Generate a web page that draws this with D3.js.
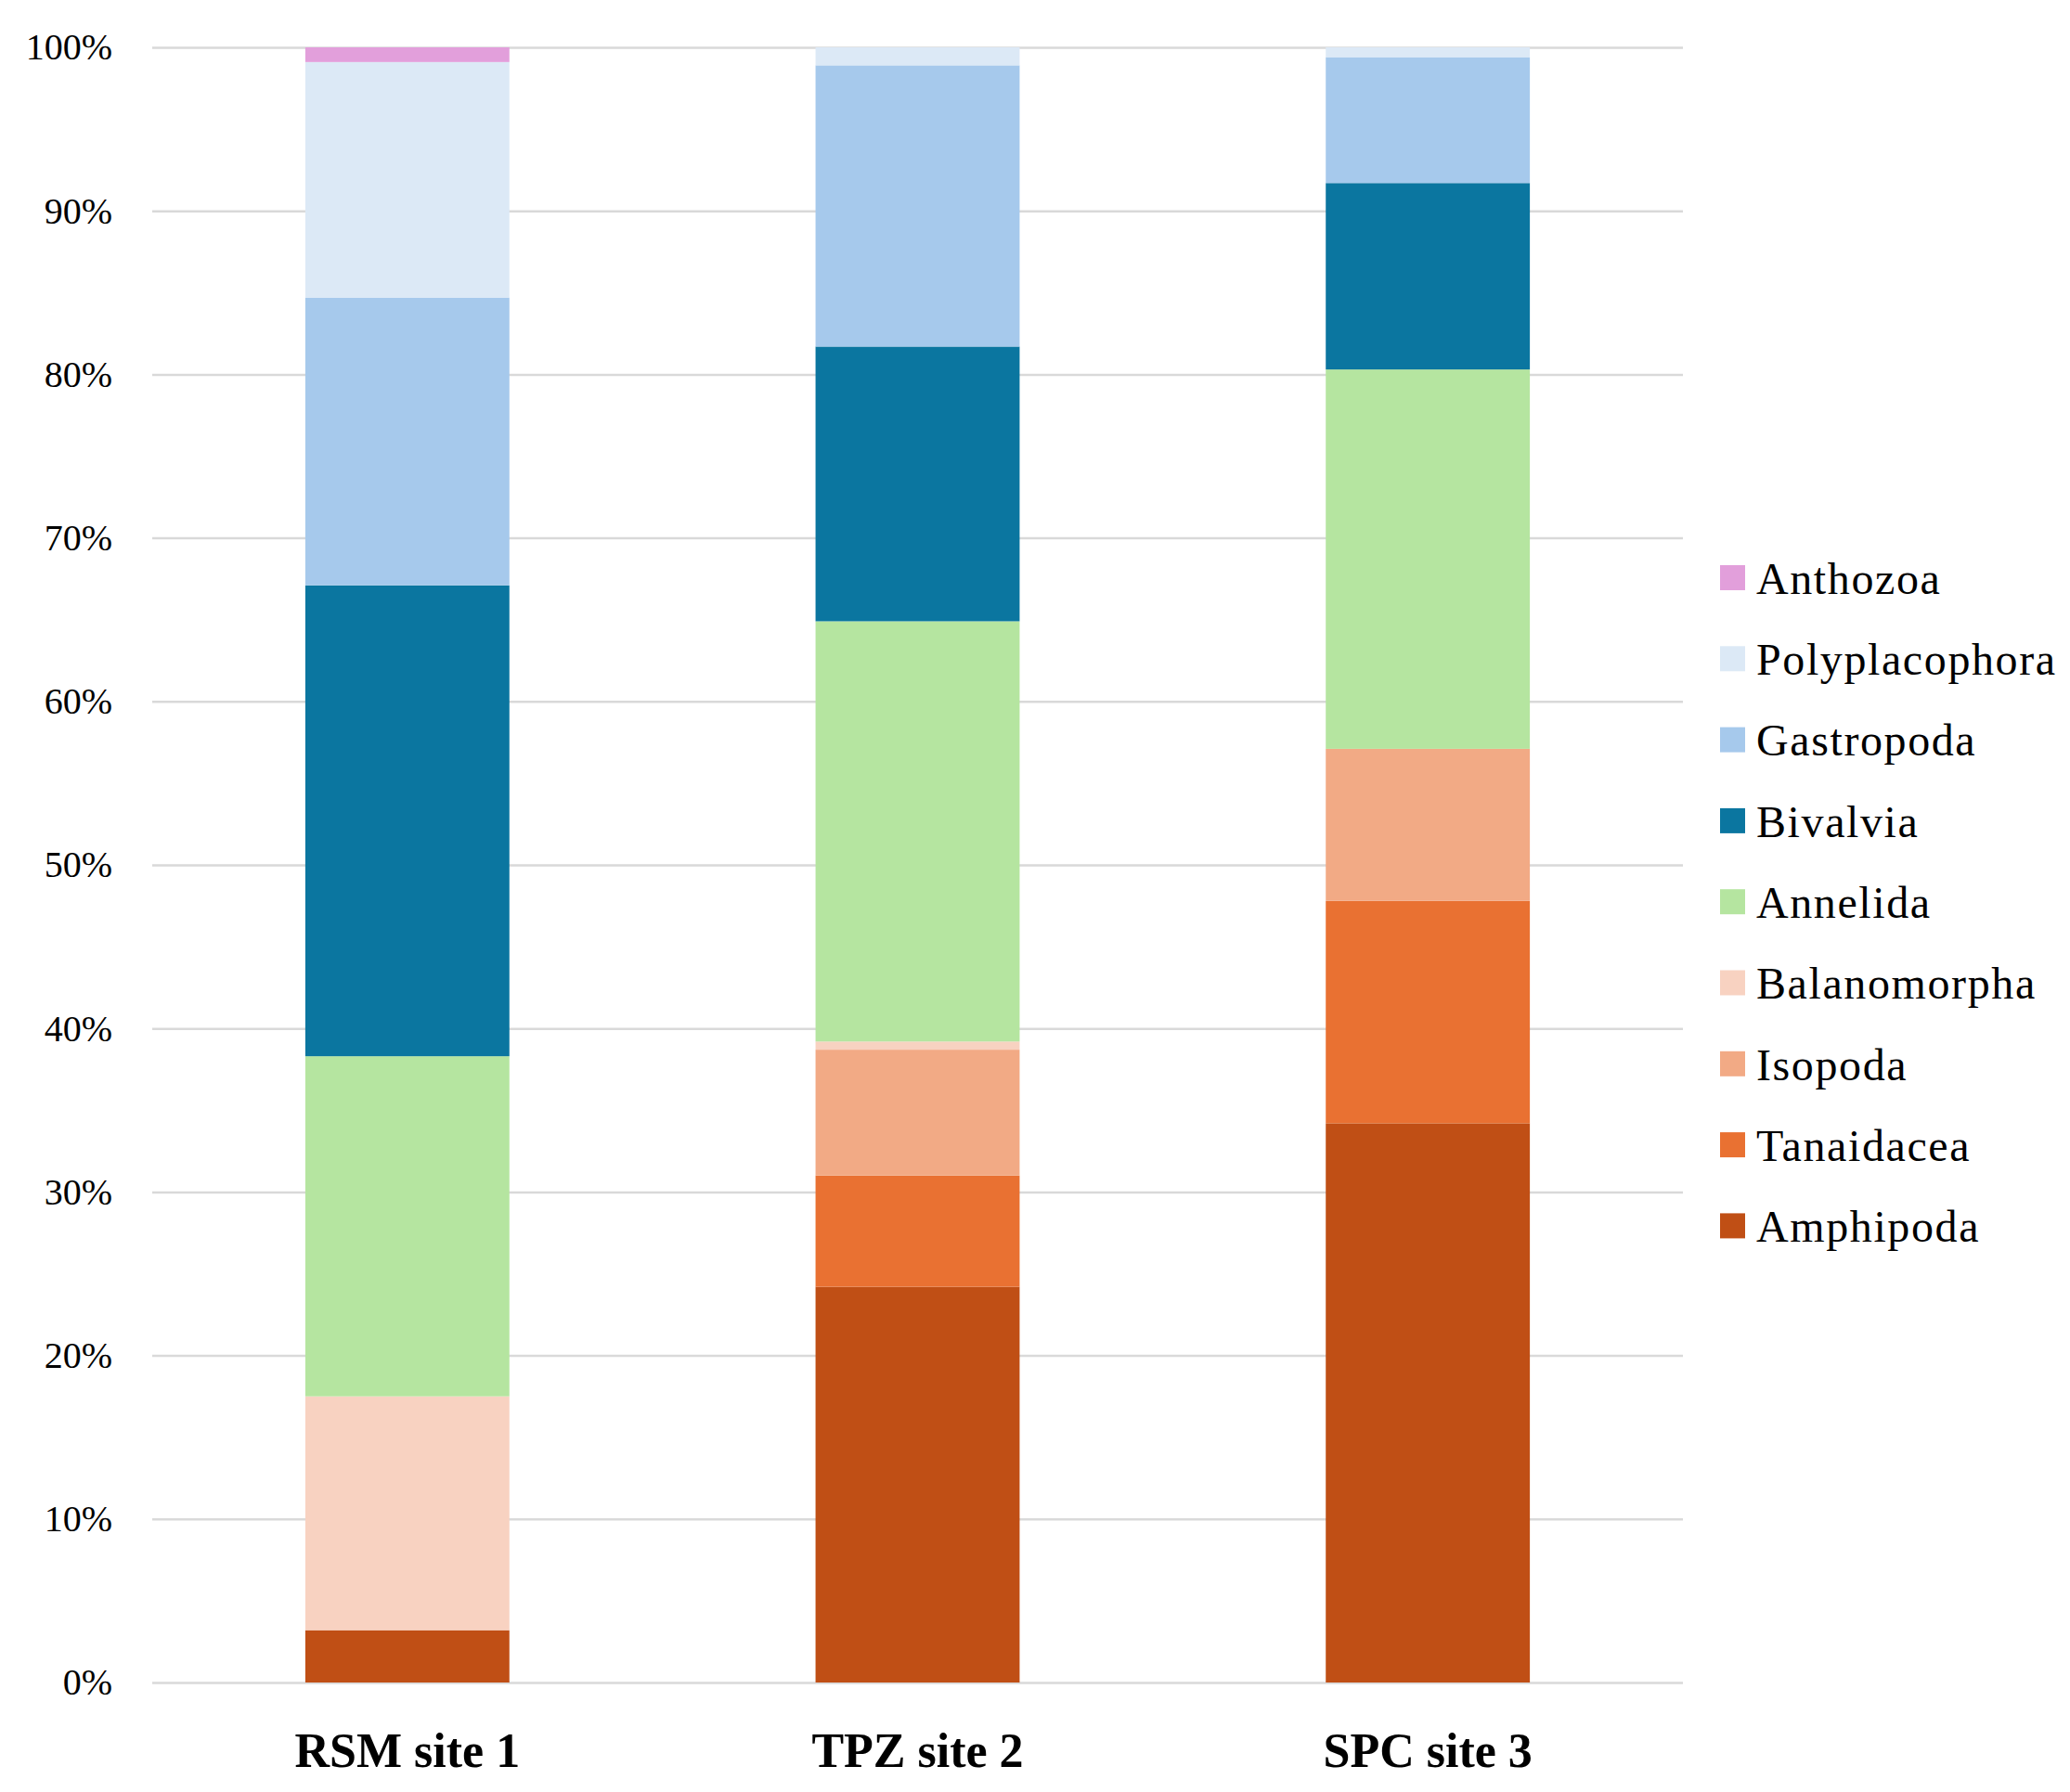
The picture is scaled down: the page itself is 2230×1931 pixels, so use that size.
<!DOCTYPE html>
<html>
<head>
<meta charset="utf-8">
<script src="https://cdn.jsdelivr.net/npm/d3@7"></script>
<style>
  body { margin: 0; background: #fff; }
  text { font-family: "Liberation Serif", "Times New Roman", serif; fill: #000; }
</style>
</head>
<body>
<div class="canvas"></div>
<script>
const dims = {'width':2230, 'height':1931};
const margin = {'left':164, 'top':51, 'right':417, 'bottom':118};

// data (percent of individuals per site)
const sites = ['RSM site 1', 'TPZ site 2', 'SPC site 3'];
const taxa = ['Amphipoda', 'Tanaidacea', 'Isopoda', 'Balanomorpha', 'Annelida',
              'Bivalvia', 'Gastropoda', 'Polyplacophora', 'Anthozoa'];
const amphipoda      = [3.2, 24.2, 34.2];
const tanaidacea     = [0,    6.8, 13.6];
const isopoda        = [0,    7.7,  9.3];
const balanomorpha   = [14.3, 0.5,  0];
const annelida       = [20.8, 25.7, 23.2];
const bivalvia       = [28.8, 16.8, 11.4];
const gastropoda     = [17.6, 17.2,  7.7];
const polyplacophora = [14.4, 1.1,  0.6];
const anthozoa       = [0.9,  0,    0];
const yTicks = [0, 10, 20, 30, 40, 50, 60, 70, 80, 90, 100];

const colors = ['#c04f15', '#e97132', '#f2aa85', '#f8d2c1', '#b5e5a0',
                '#0b76a0', '#a6c9ec', '#dce9f6', '#e29fdb'];

const seriesValues = [amphipoda, tanaidacea, isopoda, balanomorpha, annelida,
                      bivalvia, gastropoda, polyplacophora, anthozoa];

const rows = sites.map((s, i) => {
  const r = {site: s};
  taxa.forEach((t, j) => r[t] = seriesValues[j][i]);
  return r;
});

const innerW = dims.width - margin.left - margin.right;
const innerH = dims.height - margin.top - margin.bottom;

const svg = d3.select('.canvas')
  .append('svg')
  .attr('width', dims.width)
  .attr('height', dims.height);

const graph = svg.append('g')
  .attr('transform', `translate(${margin.left},${margin.top})`);

const x = d3.scaleBand()
  .domain(sites)
  .range([0, innerW])
  .paddingInner(0.6)
  .paddingOuter(0.3);

const y = d3.scaleLinear()
  .domain([0, 100])
  .range([innerH, 0]);

const color = d3.scaleOrdinal().domain(taxa).range(colors);

// gridlines + y labels
const yAxis = d3.axisLeft(y)
  .tickValues(yTicks)
  .tickSize(-innerW)
  .tickPadding(43)
  .tickFormat(d => d + '%');

const yAxisGroup = graph.append('g').call(yAxis);
yAxisGroup.select('.domain').remove();
yAxisGroup.selectAll('line').attr('stroke', '#d9d9d9').attr('stroke-width', 2.5);
yAxisGroup.selectAll('text')
  .style('font-family', '"Liberation Serif", serif')
  .style('font-size', '40px')
  .attr('fill', '#222');

// stacked bars
const stack = d3.stack().keys(taxa);
const layers = stack(rows);

graph.append('g').selectAll('g')
  .data(layers)
  .enter().append('g')
    .attr('fill', d => color(d.key))
  .selectAll('rect')
  .data(d => d)
  .enter().append('rect')
    .attr('x', d => x(d.data.site))
    .attr('width', x.bandwidth())
    .attr('y', d => y(d[1]))
    .attr('height', d => y(d[0]) - y(d[1]));

// x labels
const xAxis = d3.axisBottom(x).tickSize(0).tickPadding(54);
const xAxisGroup = graph.append('g')
  .attr('transform', `translate(0,${innerH})`)
  .call(xAxis);
xAxisGroup.select('.domain').remove();
xAxisGroup.selectAll('text')
  .style('font-family', '"Liberation Serif", serif')
  .style('font-size', '52px')
  .style('font-weight', 'bold')
  .attr('fill', '#000');

// legend, top item is the top of the stack
const legendOrder = taxa.slice().reverse();
const legend = svg.append('g').attr('transform', 'translate(1853,623)');
const items = legend.selectAll('g')
  .data(legendOrder)
  .enter().append('g')
    .attr('transform', (d, i) => `translate(0,${i * 87.3})`);

items.append('rect')
  .attr('x', 0)
  .attr('y', -14)
  .attr('width', 27)
  .attr('height', 27)
  .attr('fill', d => color(d));

items.append('text')
  .attr('x', 39)
  .attr('y', 0)
  .attr('dy', '0.35em')
  .style('font-size', '48px')
  .style('letter-spacing', '1.6px')
  .text(d => d);
</script>
</body>
</html>
